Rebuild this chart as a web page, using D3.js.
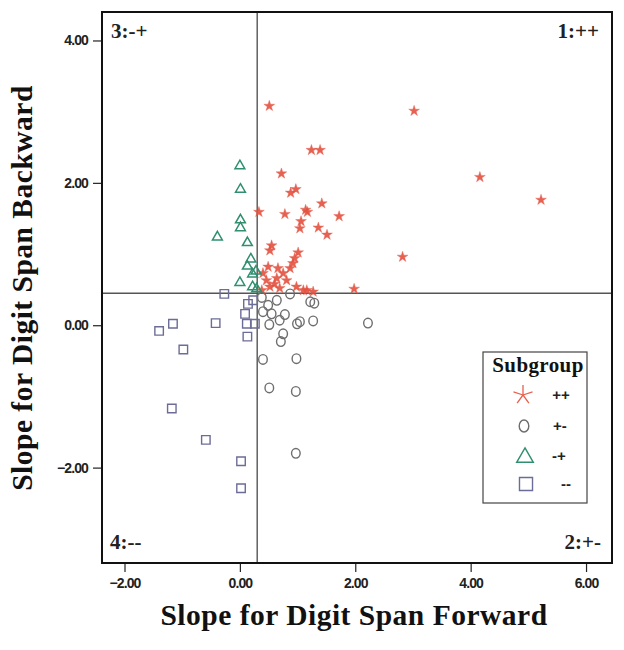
<!DOCTYPE html>
<html><head><meta charset="utf-8">
<script src="https://cdn.jsdelivr.net/npm/d3@7"></script>
<style>body{margin:0;background:#fff}svg{display:block}</style>
</head><body>
<script>
const xTicks=[-2,0,2,4,6];
const yTicks=[-2,0,2,4];
const refX=0.30, refY=0.45;
const quadrantLabels=["1:++","2:+-","3:-+","4:--"];
const legendLabels=["++","+-","-+","--"];
const starPts=[[0.51,3.08],[3.02,3.01],[1.24,2.46],[1.39,2.46],[0.72,2.13],[4.16,2.08],[0.88,1.86],[0.97,1.91],[5.22,1.76],[1.42,1.71],[1.72,1.53],[1.14,1.62],[1.17,1.59],[0.33,1.59],[0.78,1.56],[1.06,1.46],[1.04,1.36],[1.36,1.37],[1.51,1.27],[0.55,1.12],[0.52,1.05],[1.01,1.02],[0.95,0.94],[0.92,0.87],[0.87,0.80],[0.49,0.82],[0.66,0.80],[0.40,0.73],[0.75,0.73],[0.46,0.63],[0.64,0.66],[0.81,0.63],[0.98,0.54],[1.16,0.49],[1.27,0.47],[0.52,0.54],[0.38,0.49],[0.69,0.52],[2.82,0.96],[1.98,0.51],[1.10,0.49],[0.60,0.58]];
const circlePts=[[0.87,0.44],[0.64,0.35],[1.29,0.31],[0.49,0.28],[0.40,0.19],[0.55,0.16],[0.78,0.15],[0.69,0.07],[1.04,0.05],[0.99,0.02],[1.27,0.06],[0.51,0.01],[0.75,-0.12],[0.71,-0.23],[0.40,-0.48],[0.98,-0.47],[0.51,-0.88],[0.97,-0.93],[0.97,-1.80],[2.22,0.03],[0.38,0.39],[1.22,0.33]];
const trianglePts=[[0.00,2.25],[0.01,1.92],[0.01,1.49],[0.01,1.38],[-0.39,1.25],[0.13,1.17],[0.19,0.94],[0.13,0.84],[0.22,0.73],[0.00,0.61],[0.22,0.55],[0.28,0.77],[0.29,0.52]];
const squarePts=[[-0.27,0.44],[-1.40,-0.08],[-1.16,0.02],[-0.42,0.03],[-0.98,-0.34],[-1.18,-1.17],[-0.59,-1.61],[0.02,-1.91],[0.02,-2.29],[0.14,0.30],[0.09,0.16],[0.12,0.02],[0.26,0.02],[0.13,-0.16],[0.23,0.35]];

const W=624,H=650;
const L=102,R=612,T=12,B=563;
const svg=d3.select("body").append("svg").attr("width",W).attr("height",H);
const x=d3.scaleLinear().domain([-2.39,6.45]).range([L,R]);
const y=d3.scaleLinear().domain([-3.34,4.40]).range([B,T]);
const serif="'Liberation Serif','Times New Roman',serif";
const sans="'Liberation Sans',Arial,sans-serif";
const colStar="#e4513f",colCirc="#6e6e6e",colTri="#2f8f6f",colSq="#6c6c98";

// reference lines
svg.append("line").attr("x1",x(refX)).attr("x2",x(refX)).attr("y1",T).attr("y2",B).attr("stroke","#555").attr("stroke-width",1.4);
svg.append("line").attr("x1",L).attr("x2",R).attr("y1",y(refY)).attr("y2",y(refY)).attr("stroke","#555").attr("stroke-width",1.4);

// axes
const xa=svg.append("g").attr("transform",`translate(0,${B})`).call(d3.axisBottom(x).tickValues(xTicks).tickSize(9).tickPadding(6).tickSizeOuter(0).tickFormat(d3.format(".2f")));
const ya=svg.append("g").attr("transform",`translate(${L},0)`).call(d3.axisLeft(y).tickValues(yTicks).tickSize(9).tickPadding(5).tickSizeOuter(0).tickFormat(d3.format(".2f")));
[xa,ya].forEach(g=>{g.select(".domain").remove();g.selectAll("line").attr("stroke","#222").attr("stroke-width",1.2);
 g.selectAll("text").attr("font-family",sans).attr("font-weight","bold").attr("font-size",14).attr("fill","#222").attr("letter-spacing","-0.9px");});

// frame
svg.append("rect").attr("x",L).attr("y",T).attr("width",R-L).attr("height",B-T).attr("fill","none").attr("stroke","#111").attr("stroke-width",2);

// marks
const starSym=d3.symbol().type(d3.symbolStar).size(36);
svg.append("g").selectAll("path").data(starPts).join("path").attr("d",starSym)
 .attr("transform",d=>`translate(${x(d[0])},${y(d[1])})`).attr("fill",colStar).attr("stroke",colStar).attr("stroke-width",0.4).attr("opacity",0.9);
svg.append("g").selectAll("ellipse").data(circlePts).join("ellipse")
 .attr("cx",d=>x(d[0])).attr("cy",d=>y(d[1])).attr("rx",4.3).attr("ry",4.8).attr("fill","none").attr("stroke",colCirc).attr("stroke-width",1.4);
const triSym=d3.symbol().type(d3.symbolTriangle).size(42);
svg.append("g").selectAll("path").data(trianglePts).join("path").attr("d",triSym)
 .attr("transform",d=>`translate(${x(d[0])},${y(d[1])+0.8})`).attr("fill","none").attr("stroke",colTri).attr("stroke-width",1.5);
const sqSym=d3.symbol().type(d3.symbolSquare).size(72);
svg.append("g").selectAll("path").data(squarePts).join("path").attr("d",sqSym)
 .attr("transform",d=>`translate(${x(d[0])},${y(d[1])})`).attr("fill","none").attr("stroke",colSq).attr("stroke-width",1.4);

// quadrant labels
const ql=[[quadrantLabels[2],L+9,38,"start"],[quadrantLabels[0],R-13,38,"end"],[quadrantLabels[3],L+8,549,"start"],[quadrantLabels[1],R-11,549,"end"]];
svg.selectAll(".ql").data(ql).join("text").attr("x",d=>d[1]).attr("y",d=>d[2]).attr("text-anchor",d=>d[3])
 .attr("font-family",serif).attr("font-weight","bold").attr("font-size",21).attr("fill","#222").text(d=>d[0]);

// axis titles
svg.append("text").attr("x",354).attr("y",625).attr("text-anchor","middle").attr("font-family",serif).attr("font-weight","bold").attr("font-size",29.5).attr("letter-spacing","0.5px").attr("fill","#111").text("Slope for Digit Span Forward");
svg.append("text").attr("transform","translate(32,288) rotate(-90)").attr("text-anchor","middle").attr("font-family",serif).attr("font-weight","bold").attr("font-size",29.5).attr("letter-spacing","0.5px").attr("fill","#111").text("Slope for Digit Span Backward");

// legend
const lg=svg.append("g");
lg.append("rect").attr("x",483).attr("y",352).attr("width",104).attr("height",151).attr("fill","#fff").attr("stroke","#444").attr("stroke-width",1.2);
lg.append("text").attr("x",538).attr("y",372).attr("text-anchor","middle").attr("font-family",serif).attr("font-weight","bold").attr("font-size",21).attr("letter-spacing","0.4px").attr("fill","#111").text("Subgroup");
const ly=[395,426,456,484];
// 5-armed thin star for legend
const arms=d3.range(5).map(i=>{const a=-Math.PI/2+i*2*Math.PI/5;return [Math.cos(a)*10,Math.sin(a)*10];});
lg.append("path").attr("d",arms.map(p=>`M0,0L${p[0].toFixed(2)},${p[1].toFixed(2)}`).join(""))
 .attr("transform",`translate(523,${ly[0]})`).attr("fill","none").attr("stroke","#e8604e").attr("stroke-width",1.3);
lg.append("ellipse").attr("cx",524).attr("cy",ly[1]).attr("rx",4.8).attr("ry",6).attr("fill","none").attr("stroke",colCirc).attr("stroke-width",1.4);
lg.append("path").attr("d",d3.symbol().type(d3.symbolTriangle).size(120)).attr("transform",`translate(525,${ly[2]+1.5})`).attr("fill","none").attr("stroke",colTri).attr("stroke-width",1.4);
lg.append("path").attr("d",d3.symbol().type(d3.symbolSquare).size(170)).attr("transform",`translate(526,${ly[3]})`).attr("fill","none").attr("stroke",colSq).attr("stroke-width",1.4);
lg.selectAll(".ll").data(legendLabels).join("text").attr("x",(d,i)=>[561,560,559,566][i]).attr("y",(d,i)=>ly[i]+5).attr("text-anchor","middle")
 .attr("font-family",sans).attr("font-weight","bold").attr("font-size",15).attr("fill","#222").text(d=>d);
</script>
</body></html>
